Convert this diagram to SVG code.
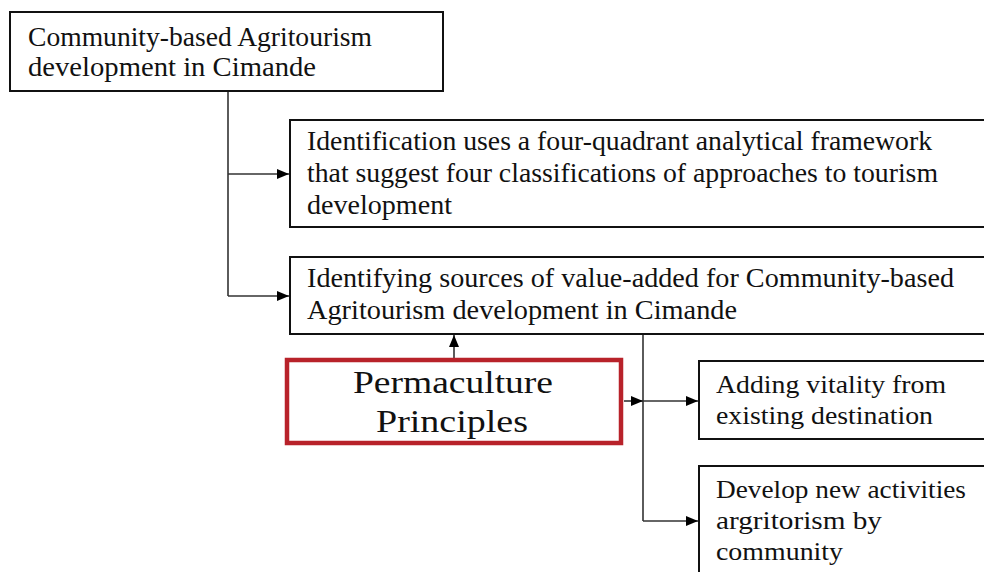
<svg xmlns="http://www.w3.org/2000/svg" width="984" height="572" viewBox="0 0 984 572">
  <style>
    .box { fill: #ffffff; stroke: #111111; stroke-width: 2; }
    .red { fill: #ffffff; stroke: #b8222a; stroke-width: 4.5; }
    .ln { fill: none; stroke: #333333; stroke-width: 1.6; }
  </style>
  <defs>
    <marker id="ah" markerUnits="userSpaceOnUse" markerWidth="12" markerHeight="10" refX="12" refY="5" orient="auto">
      <path d="M0,0 L12,5 L0,10 Z" fill="#000000"/>
    </marker>
  </defs>
  <rect width="984" height="572" fill="#ffffff"/>

  <g id="connectors">
    <path class="ln" d="M228,91 V296"/>
    <path class="ln" d="M228,174 H289" marker-end="url(#ah)"/>
    <path class="ln" d="M228,296 H289" marker-end="url(#ah)"/>
    <path class="ln" d="M454,358 V335" marker-end="url(#ah)"/>
    <path class="ln" d="M643,334 V521"/>
    <path class="ln" d="M624,401 H643" marker-end="url(#ah)"/>
    <path class="ln" d="M643,401 H698" marker-end="url(#ah)"/>
    <path class="ln" d="M643,521 H698" marker-end="url(#ah)"/>
  </g>

  <g font-family="'Liberation Serif', 'Times New Roman', serif" fill="#111111">
  <g id="node-cbat" font-size="27">
    <rect class="box" x="10" y="12" width="433" height="79"/>
    <text x="28" y="46" textLength="344" lengthAdjust="spacingAndGlyphs">Community-based Agritourism</text>
    <text x="28" y="76" textLength="288" lengthAdjust="spacingAndGlyphs">development in  Cimande</text>
  </g>

  <g id="node-identification" font-size="27">
    <rect class="box" x="290" y="120" width="710" height="107"/>
    <text x="307" y="150" textLength="625" lengthAdjust="spacingAndGlyphs">Identification uses a four-quadrant analytical framework</text>
    <text x="307" y="182" textLength="631" lengthAdjust="spacingAndGlyphs">that suggest four classifications of approaches to tourism</text>
    <text x="307" y="214" textLength="145" lengthAdjust="spacingAndGlyphs">development</text>
  </g>

  <g id="node-sources" font-size="27">
    <rect class="box" x="290" y="257" width="710" height="77"/>
    <text x="307" y="287" textLength="647" lengthAdjust="spacingAndGlyphs">Identifying sources of value-added for Community-based</text>
    <text x="307" y="319" textLength="430" lengthAdjust="spacingAndGlyphs">Agritourism development in  Cimande</text>
  </g>

  <g id="node-permaculture" font-size="32">
    <rect class="red" x="287" y="360" width="334" height="83"/>
    <text x="453" y="393" text-anchor="middle" textLength="200" lengthAdjust="spacingAndGlyphs">Permaculture</text>
    <text x="452" y="432" text-anchor="middle" textLength="152" lengthAdjust="spacingAndGlyphs">Principles</text>
  </g>

  <g id="node-vitality" font-size="26">
    <rect class="box" x="699" y="361" width="300" height="78"/>
    <text x="716" y="393" textLength="230" lengthAdjust="spacingAndGlyphs">Adding vitality  from</text>
    <text x="716" y="424" textLength="217" lengthAdjust="spacingAndGlyphs">existing  destination</text>
  </g>

  <g id="node-activities" font-size="26">
    <rect class="box" x="699" y="466" width="300" height="120"/>
    <text x="716" y="498" textLength="250" lengthAdjust="spacingAndGlyphs">Develop new activities</text>
    <text x="716" y="529" textLength="166" lengthAdjust="spacingAndGlyphs">argritorism  by</text>
    <text x="716" y="560" textLength="127" lengthAdjust="spacingAndGlyphs">community</text>
  </g>
  </g>
</svg>
